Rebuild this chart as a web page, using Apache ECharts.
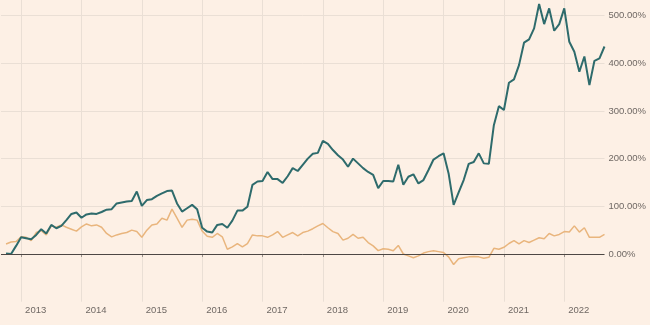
<!DOCTYPE html>
<html><head><meta charset="utf-8">
<script src="https://cdn.jsdelivr.net/npm/echarts@6/dist/echarts.min.js"></script>
<style>html,body{margin:0;padding:0;background:#fdf0e5}#c{width:650px;height:325px}</style>
</head><body><div id="c"></div><script>
const months = [
 '2012-09','2012-10','2012-11','2012-12',
 '2013-01','2013-02','2013-03','2013-04','2013-05','2013-06','2013-07','2013-08','2013-09','2013-10','2013-11','2013-12',
 '2014-01','2014-02','2014-03','2014-04','2014-05','2014-06','2014-07','2014-08','2014-09','2014-10','2014-11','2014-12',
 '2015-01','2015-02','2015-03','2015-04','2015-05','2015-06','2015-07','2015-08','2015-09','2015-10','2015-11','2015-12',
 '2016-01','2016-02','2016-03','2016-04','2016-05','2016-06','2016-07','2016-08','2016-09','2016-10','2016-11','2016-12',
 '2017-01','2017-02','2017-03','2017-04','2017-05','2017-06','2017-07','2017-08','2017-09','2017-10','2017-11','2017-12',
 '2018-01','2018-02','2018-03','2018-04','2018-05','2018-06','2018-07','2018-08','2018-09','2018-10','2018-11','2018-12',
 '2019-01','2019-02','2019-03','2019-04','2019-05','2019-06','2019-07','2019-08','2019-09','2019-10','2019-11','2019-12',
 '2020-01','2020-02','2020-03','2020-04','2020-05','2020-06','2020-07','2020-08','2020-09','2020-10','2020-11','2020-12',
 '2021-01','2021-02','2021-03','2021-04','2021-05','2021-06','2021-07','2021-08','2021-09','2021-10','2021-11','2021-12',
 '2022-01','2022-02','2022-03','2022-04','2022-05','2022-06','2022-07','2022-08','2022-09'
];
// cumulative return, % (first month has no data)
const stockReturn = [null,
 1,0,17,
 35,33,31,40,52,43,61,54,59,71,84,87,
 76,83,85,84,88,93,94,106,108,110,111,131,
 101,113,115,122,127,132,133,106,89,96,103,94,
 55,47,45,61,63,55,70,91,91,99,145,152,
 153,172,157,157,149,163,180,174,187,200,210,212,
 237,231,218,207,198,183,200,190,180,172,166,138,
 153,153,152,187,145,162,167,148,155,176,198,205,
 211,169,103,129,155,189,193,211,190,189,270,310,
 302,359,366,396,443,450,473,524,482,515,468,482,
 515,445,424,382,414,354,405,410,435
];
const indexReturn = [null,
 21,25,26,
 36,35,28,45,49,40,59,56,61,56,52,48,
 57,63,59,61,56,43,36,40,43,45,50,47,
 35,50,61,63,75,71,94,75,56,71,73,71,
 48,37,35,43,36,10,15,22,15,22,40,38,
 38,35,40,47,35,40,45,38,45,48,53,59,
 64,55,47,43,29,33,41,33,35,24,17,7,
 11,10,7,18,0,-4,-8,-4,2,5,7,5,
 3,-6,-22,-10,-8,-6,-5,-6,-9,-7,12,10,
 14,22,28,21,28,24,29,34,32,43,38,41,
 47,46,59,46,55,35,35,35,41
];
const yearTicks = ['2013','2014','2015','2016','2017','2018','2019','2020','2021','2022'];

const isYearStart = (i) => yearTicks.indexOf(months[i].slice(0,4)) >= 0 && months[i].slice(5) === '01';
const FONT = 'Liberation Sans, Arial, sans-serif';
const GRID = '#eadfd5';
const chart = echarts.init(document.getElementById('c'), null, {renderer: 'canvas'});
chart.setOption({
  backgroundColor: '#fdf0e5',
  animation: false,
  grid: {left: 1, right: 45.5, top: 0, bottom: 23.3, containLabel: false, outerBoundsMode: 'none'},
  xAxis: {
    type: 'category', data: months, boundaryGap: false,
    axisLine: {show: false},
    axisTick: {show: true, length: 3, interval: (i) => isYearStart(i), lineStyle: {color: '#9a918b'}},
    axisLabel: {
      interval: (i) => isYearStart(i),
      formatter: (v) => v.slice(0,4),
      align: 'left', margin: 4, padding: [0,0,0,4],
      color: '#6f6864', fontSize: 9.5, fontFamily: FONT
    },
    splitLine: {show: true, interval: (i) => isYearStart(i), lineStyle: {color: GRID, width: 1}}
  },
  yAxis: {
    type: 'value', position: 'right', min: -100, max: 532.5, interval: 100,
    axisLine: {show: false}, axisTick: {show: false},
    axisLabel: {
      margin: 4, color: '#6f6864', fontSize: 9.5, fontFamily: FONT,
      showMinLabel: false, showMaxLabel: false,
      formatter: (v) => v.toFixed(2) + '%'
    },
    splitLine: {show: true, showMinLine: false, showMaxLine: false, lineStyle: {color: GRID, width: 1}}
  },
  series: [
    {
      name: 'Index', type: 'line', data: indexReturn, symbol: 'none', z: 2,
      lineStyle: {color: '#e9b57d', width: 1.5},
      markLine: {silent: true, symbol: 'none', label: {show: false},
        lineStyle: {color: '#4d4744', width: 1, type: 'solid'},
        data: [{yAxis: 0}]}
    },
    {
      name: 'Stock', type: 'line', data: stockReturn, symbol: 'none', z: 3,
      lineStyle: {color: '#2e6b6c', width: 2}
    }
  ]
});
</script></body></html>
